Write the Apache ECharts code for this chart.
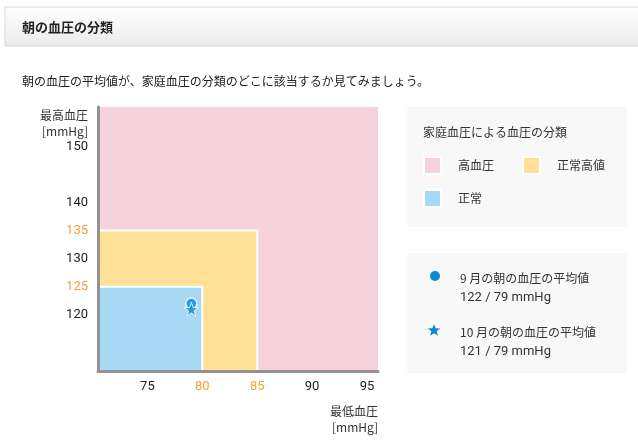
<!DOCTYPE html>
<html>
<head>
<meta charset="utf-8">
<script src="https://cdn.jsdelivr.net/npm/echarts@6/dist/echarts.min.js"></script>
<style>
html,body{margin:0;padding:0;background:#fff;}
#main{width:638px;height:442px;}
</style>
</head>
<body>
<div id="main"></div>
<script>
// 月ごとの朝の血圧平均
var months = ['9 月', '10 月'];
var systolic = [122, 121];   // 最高血圧
var diastolic = [79, 79];    // 最低血圧

// 家庭血圧の分類（上限）
var zoneNames = ['高血圧', '正常高値', '正常'];
var zoneDiaMax = [null, 85, 80];
var zoneSysMax = [null, 135, 125];

// 目盛
var xTicks = [75, 80, 85, 90, 95];
var yTicks = [120, 125, 130, 135, 140, 150];
var xMark = [80, 85];
var yMark = [125, 135];

var PINK = '#F6D2DD', YELLOW = '#FEE196', BLUE = '#A7D8F4', MARK = '#0A89D3';
var FONT = '"Noto Sans CJK JP", "Noto Sans", sans-serif';
var STAR = 'path://M50,0 L61.8,34.5 L97.6,34.5 L68.6,55.9 L79.4,90.5 L50,69.1 L20.6,90.5 L31.4,55.9 L2.4,34.5 L38.2,34.5 Z';
var X_MIN = 70.5, X_MAX = 96, Y_MIN = 110, Y_MAX = 157;

var myChart = echarts.init(document.getElementById('main'));

function tickFmt(marks) {
	return function(v) {
		return marks.indexOf(v) >= 0 ? '{o|' + v + '}' : '{n|' + v + '}';
	};
}
var tickRich = {
	n: {color: '#222', fontSize: 13, fontFamily: 'Roboto'},
	o: {color: '#F5A23C', fontSize: 13, fontFamily: 'Roboto'}
};

// 凡例の星形
function starPoints(cx, cy, r) {
	var pts = [];
	for (var i = 0; i < 10; i++) {
		var rr = i % 2 ? r * 0.42 : r;
		var a = -Math.PI / 2 + i * Math.PI / 5;
		pts.push([cx + rr * Math.cos(a), cy + rr * Math.sin(a)]);
	}
	return pts;
}

// 分類の領域
var areas = [];
var areaColors = [PINK, YELLOW, BLUE];
for (var i = 1; i < zoneNames.length; i++) {
	areas.push([{
		name: zoneNames[i], xAxis: X_MIN, yAxis: Y_MIN,
		itemStyle: {color: areaColors[i], borderColor: '#fff', borderWidth: 2}
	}, {xAxis: zoneDiaMax[i], yAxis: zoneSysMax[i]}]);
}

// 凡例（グラフィック）
var graphics = [
	{type: 'rect', shape: {x: 5, y: 7, width: 700, height: 39}, z: 0,
		style: {fill: new echarts.graphic.LinearGradient(0, 0, 0, 1, [{offset: 0, color: '#ffffff'}, {offset: 1, color: '#ebebeb'}]), stroke: '#d6d6d6', lineWidth: 1}},
	{type: 'text', x: 22, y: 27, style: {text: '朝の血圧の分類', font: 'bold 13px ' + FONT, fill: '#222', verticalAlign: 'middle'}},
	{type: 'text', x: 22, y: 81, style: {text: '朝の血圧の平均値が、家庭血圧の分類のどこに該当するか見てみましょう。', font: '12px ' + FONT, fill: '#222', verticalAlign: 'middle'}},
	{type: 'rect', shape: {x: 407, y: 107, width: 220, height: 120}, style: {fill: '#F8F8F8'}},
	{type: 'text', x: 423, y: 132, style: {text: '家庭血圧による血圧の分類', font: '12px ' + FONT, fill: '#333', verticalAlign: 'middle'}},
	{type: 'rect', shape: {x: 407, y: 253, width: 220, height: 120}, style: {fill: '#F8F8F8'}}
];
var swatchPos = [[424, 157], [523, 157], [424, 190]];
for (var k = 0; k < zoneNames.length; k++) {
	graphics.push({type: 'rect', shape: {x: swatchPos[k][0], y: swatchPos[k][1], width: 17, height: 17},
		style: {fill: areaColors[k], stroke: '#fff', lineWidth: 2}});
	graphics.push({type: 'text', x: swatchPos[k][0] + 34, y: swatchPos[k][1] + 8.5,
		style: {text: zoneNames[k], font: '12px ' + FONT, fill: '#333', verticalAlign: 'middle'}});
}
var legendY = [276, 330];
for (var m = 0; m < months.length; m++) {
	if (m === 0) {
		graphics.push({type: 'circle', shape: {cx: 435, cy: legendY[m], r: 5}, style: {fill: MARK}});
	} else {
		graphics.push({type: 'polygon', shape: {points: starPoints(434, legendY[m] + 0.5, 6.5)}, style: {fill: MARK}});
	}
	graphics.push({type: 'text', x: 460, y: legendY[m] + 2, style: {text: months[m] + 'の朝の血圧の平均値', font: '12px ' + FONT, fill: '#333', verticalAlign: 'middle'}});
	graphics.push({type: 'text', x: 460, y: legendY[m] + 22, style: {text: systolic[m] + ' / ' + diastolic[m] + ' mmHg', font: '13px Roboto', fill: '#333', verticalAlign: 'middle'}});
}

var option = {
	animation: false,
	backgroundColor: '#fff',
	grid: {
		left: 98, top: 107, width: 280, height: 264,
		show: true, backgroundColor: PINK, borderWidth: 0
	},
	xAxis: {
		type: 'value', min: X_MIN, max: X_MAX, z: 10,
		name: '最低血圧\n[mmHg]', nameLocation: 'end', nameGap: 0, nameMoveOverlap: false,
		nameTextStyle: {align: 'right', verticalAlign: 'top', lineHeight: 16, padding: [32, 0, 0, 0], color: '#333', fontSize: 12, fontFamily: FONT},
		axisLine: {lineStyle: {color: '#939393', width: 3}},
		axisTick: {show: false},
		splitLine: {show: false},
		axisLabel: {customValues: xTicks, margin: 9, formatter: tickFmt(xMark), rich: tickRich}
	},
	yAxis: {
		type: 'value', min: Y_MIN, max: Y_MAX, z: 10,
		name: '最高血圧\n[mmHg]', nameLocation: 'end', nameGap: 0, nameMoveOverlap: false,
		nameTextStyle: {align: 'right', verticalAlign: 'top', lineHeight: 16, padding: [0, 10, 0, 0], color: '#333', fontSize: 12, fontFamily: FONT},
		axisLine: {show: true, lineStyle: {color: '#939393', width: 3}},
		axisTick: {show: false},
		splitLine: {show: false},
		axisLabel: {customValues: yTicks, margin: 10, formatter: tickFmt(yMark), rich: tickRich}
	},
	graphic: graphics,
	series: [{
		name: months[0],
		type: 'scatter',
		symbol: 'circle',
		symbolSize: 11,
		itemStyle: {color: MARK, borderColor: '#fff', borderWidth: 1.5},
		data: [[diastolic[0], systolic[0]]],
		markArea: {silent: true, label: {show: false}, data: areas}
	}, {
		name: months[1],
		type: 'scatter',
		symbol: STAR,
		symbolSize: 14,
		itemStyle: {color: MARK, borderColor: '#fff', borderWidth: 1},
		data: [[diastolic[1], systolic[1]]]
	}]
};
myChart.setOption(option);
</script>
</body>
</html>
